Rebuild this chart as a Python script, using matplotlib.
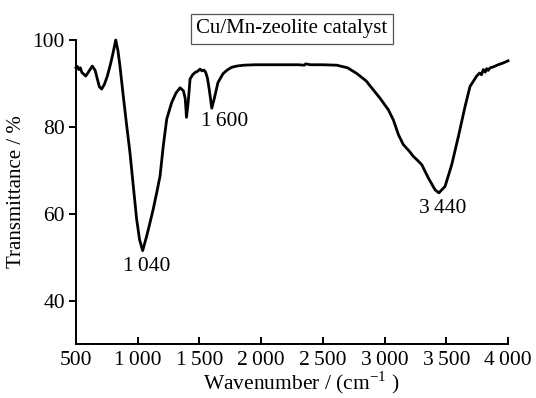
import matplotlib
matplotlib.use("Agg")
import matplotlib.pyplot as plt

plt.rcParams['font.family'] = ['Liberation Serif', 'DejaVu Serif']
plt.rcParams['mathtext.fontset'] = 'custom'
plt.rcParams['mathtext.rm'] = 'Liberation Serif'

# FTIR spectrum of the catalyst (wavenumber in cm^-1, transmittance in %)
wavenumber = [500, 512, 522, 535, 548, 560, 579, 600, 632, 655, 673, 690, 708,
              730, 754, 780, 800, 822, 840, 856, 883, 911, 937, 964, 991,
              1015, 1040, 1073, 1100, 1126, 1155, 1181, 1207, 1235, 1275,
              1310, 1343, 1370, 1385, 1395, 1410, 1424, 1445, 1464, 1485, 1505,
              1520, 1535, 1550, 1565, 1580, 1600, 1620, 1650, 1690, 1721, 1760,
              1802, 1860, 1950, 2100, 2300, 2350, 2360, 2400, 2500, 2612,
              2700, 2774, 2850, 2909, 2963, 3031, 3071, 3112, 3152, 3200,
              3233, 3270, 3301, 3355, 3409, 3440, 3490, 3544, 3598, 3652,
              3692, 3746, 3770, 3785, 3800, 3815, 3827, 3840, 3855, 3880,
              3920, 3960, 4000]
transmittance = [93.6, 93.9, 93.2, 93.6, 92.5, 92.2, 91.7, 92.6, 94.0, 93.0, 91.0, 89.2, 88.7,
                 89.8, 91.7, 94.5, 97.0, 100.0, 97.5, 94.0, 87.1, 80.2, 74.1, 66.4, 58.8,
                 54.0, 51.5, 54.9, 58.0, 61.1, 65.0, 68.7, 75.6, 81.8, 85.6,
                 87.8, 89.0, 88.3, 86.5, 82.2, 86.0, 91.0, 92.0, 92.5, 92.8, 93.3,
                 92.9, 93.1, 92.6, 91.2, 88.5, 84.3, 86.5, 90.2, 92.2, 93.0, 93.7,
                 94.0, 94.2, 94.3, 94.3, 94.3, 94.2, 94.5, 94.3, 94.3, 94.2,
                 93.6, 92.3, 90.6, 88.5, 86.6, 83.9, 81.6, 78.2, 75.9, 74.4,
                 73.2, 72.2, 71.3, 68.2, 65.5, 64.8, 66.3, 71.3, 77.8, 84.7,
                 89.3, 91.7, 92.4, 92.0, 93.2, 92.6, 93.4, 93.0, 93.6, 93.8,
                 94.3, 94.7, 95.2]

# Annotated absorption bands
band_labels = ['1\u2009040', '1\u2009600', '3\u2009440']
band_label_x = [1071, 1703, 3471]
band_label_y = [47.9, 81.2, 61.3]

x_ticks = [500, 1000, 1500, 2000, 2500, 3000, 3500, 4000]
x_tick_labels = ['500', '1\u2009000', '1\u2009500', '2\u2009000', '2\u2009500',
                 '3\u2009000', '3\u2009500', '4\u2009000']
y_ticks = [40, 60, 80, 100]

fig = plt.figure(figsize=(5.36, 3.98), dpi=100)
ax = fig.add_axes([0.1418, 0.1357, 0.806, 0.7638])

ax.plot(wavenumber, transmittance, color='black', lw=2.0, clip_on=False,
        solid_joinstyle='round')

ax.set_xlim(500, 4000)
ax.set_ylim(30, 100)
ax.set_xticks(x_ticks)
ax.set_xticklabels(x_tick_labels)
ax.set_yticks(y_ticks)

for s in ['top', 'right']:
    ax.spines[s].set_visible(False)
for s in ['left', 'bottom']:
    ax.spines[s].set_linewidth(1.4)
ax.spines['left'].set_bounds(30, 100)

ax.tick_params(axis='x', direction='in', length=5, width=1.4, labelsize=15.5, pad=5)
ax.tick_params(axis='y', direction='out', length=5, width=1.4, labelsize=15.5, pad=3)

ax.set_xlabel('Wavenumber / (cm$^{-1}$ )', fontsize=15.5, labelpad=2)
ax.xaxis.set_label_coords(0.521, -0.085)
ax.set_ylabel('Transmittance / %', fontsize=15, labelpad=5)

for lab, lx, ly in zip(band_labels, band_label_x, band_label_y):
    ax.text(lx, ly, lab, fontsize=15.5, ha='center', va='center')

fig.text(292 / 536, 1 - 29 / 398, 'Cu/Mn-zeolite catalyst', fontsize=15,
         ha='center', va='center',
         bbox=dict(boxstyle='square,pad=0.25', facecolor='white',
                   edgecolor='#555555', linewidth=0.9))

fig.savefig('out.png', dpi=100)
